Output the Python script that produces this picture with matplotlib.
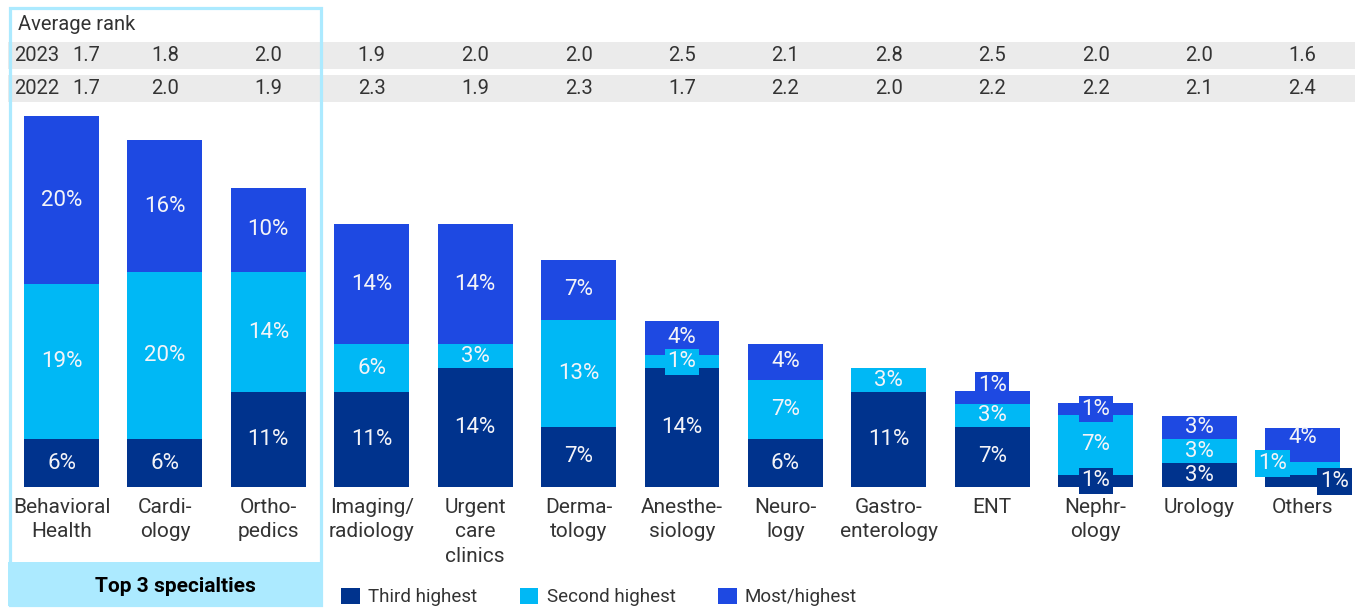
import matplotlib.pyplot as plt
from matplotlib.patches import Rectangle

plt.rcParams['font.family'] = ['Roboto', 'DejaVu Sans']

# ---- data ----
categories = ["Behavioral\nHealth", "Cardi-\nology", "Ortho-\npedics", "Imaging/\nradiology",
              "Urgent\ncare\nclinics", "Derma-\ntology", "Anesthe-\nsiology", "Neuro-\nlogy",
              "Gastro-\nenterology", "ENT", "Nephr-\nology", "Urology", "Others"]
third = [5.8, 5.8, 11.5, 11.5, 14.4, 7.3, 14.4, 5.8, 11.5, 7.3, 1.5, 2.9, 1.5]
second = [18.8, 20.3, 14.6, 5.8, 2.9, 13.0, 1.6, 7.2, 2.9, 2.8, 7.2, 2.9, 1.5]
most = [20.4, 16.0, 10.2, 14.6, 14.6, 7.3, 4.2, 4.4, 0.0, 1.5, 1.5, 2.8, 4.2]
third_lbl = [6, 6, 11, 11, 14, 7, 14, 6, 11, 7, 1, 3, 1]
second_lbl = [19, 20, 14, 6, 3, 13, 1, 7, 3, 3, 7, 3, 1]
most_lbl = [20, 16, 10, 14, 14, 7, 4, 4, None, 1, 1, 3, 4]
rank_2023 = ["1.7", "1.8", "2.0", "1.9", "2.0", "2.0", "2.5", "2.1", "2.8", "2.5", "2.0", "2.0", "1.6"]
rank_2022 = ["1.7", "2.0", "1.9", "2.3", "1.9", "2.3", "1.7", "2.2", "2.0", "2.2", "2.2", "2.1", "2.4"]
series_names = ["Third highest", "Second highest", "Most/highest"]

NAVY, CYAN, BLUE, PALE = "#00338D", "#00B8F5", "#1E49E2", "#ACEAFF"
TXT = "#333333"

W, H = 1355, 608
fig = plt.figure(figsize=(W / 100, H / 100), dpi=100)

# overlay axes in pixel coordinates for the frame / table bands
ov = fig.add_axes([0, 0, 1, 1])
ov.set_xlim(0, W)
ov.set_ylim(H, 0)
ov.axis('off')

ax = fig.add_axes([0, 0, 1, 1])
ax.patch.set_alpha(0)
ax.axis('off')
pxpct = 8.24  # pixels per percentage point
ax.set_xlim(-0.595, 12.508)
ax.set_ylim(-(H - 487) / pxpct, 487 / pxpct)

x = list(range(len(categories)))
bottom2 = [a for a in third]
bottom3 = [a + b for a, b in zip(third, second)]
b1 = ax.bar(x, third, width=0.725, color=NAVY, label=series_names[0], zorder=2)
b2 = ax.bar(x, second, width=0.725, bottom=bottom2, color=CYAN, label=series_names[1], zorder=2)
b3 = ax.bar(x, most, width=0.725, bottom=bottom3, color=BLUE, label=series_names[2], zorder=2)

# label offsets (dx in data units, dy in percentage points) for crowded segments
offsets = {("s", 12): (-0.29, 0.6), ("t", 12): (0.31, -0.1), ("m", 9): (0, 1.45), ("m", 12): (0, 0.85)}


def seg_label(xi, base, h, val, color, key):
    if val is None:
        return
    dx, dy = offsets.get((key, xi), (0, 0))
    bbox = None
    if h < 2.0:
        bbox = dict(boxstyle='square,pad=0.12', fc=color, ec='none')
    ax.text(xi + dx, base + h / 2 + dy, f"{val}%", ha='center', va='center',
            color='#F4F4F8', fontsize=16, zorder=4, bbox=bbox)


for i in x:
    seg_label(i, 0, third[i], third_lbl[i], NAVY, "t")
    seg_label(i, bottom2[i], second[i], second_lbl[i], CYAN, "s")
    seg_label(i, bottom3[i], most[i], most_lbl[i], BLUE, "m")

tr = ax.get_xaxis_transform()
for i, c in enumerate(categories):
    ax.text(i, 1 - 498 / H, c, transform=tr, ha='center', va='top', fontsize=15,
            color=TXT, linespacing=1.36)

# ---- average rank table ----
ov.add_patch(Rectangle((8, 42), W - 8, 27, color='#EBEBEB', lw=0, zorder=1))
ov.add_patch(Rectangle((8, 75), W - 8, 27, color='#EBEBEB', lw=0, zorder=1))
ov.text(18, 24, "Average rank", ha='left', va='center', fontsize=14.5, color=TXT)
ov.text(14, 55.5, "2023", ha='left', va='center', fontsize=14.5, color=TXT)
ov.text(14, 88.5, "2022", ha='left', va='center', fontsize=14.5, color=TXT)
for i in x:
    xi = 0.24 if i == 0 else i
    ax.text(xi, 1 - 55.5 / H, rank_2023[i], transform=tr, ha='center', va='center', fontsize=14.5, color=TXT)
    ax.text(xi, 1 - 88.5 / H, rank_2022[i], transform=tr, ha='center', va='center', fontsize=14.5, color=TXT)

# ---- top 3 frame ----
ov.add_patch(Rectangle((9.5, 7.5), 311, 597, fc='none', ec=PALE, lw=2.3, zorder=5))
ov.add_patch(Rectangle((8, 562), 314, 44, fc=PALE, ec='none', zorder=5))
ov.text(175, 586, "Top 3 specialties", ha='center', va='center', fontsize=15,
        fontweight='bold', color='black', zorder=6)

# ---- legend ----
fig.legend(handles=[b1, b2, b3], loc='center left', bbox_to_anchor=(341 / W, 1 - 597 / H),
           ncol=3, frameon=False, fontsize=13.5, handlelength=1.0, handleheight=1.0,
           handletextpad=0.45, columnspacing=2.25, borderpad=0, borderaxespad=0,
           labelcolor=TXT)

fig.savefig("out.png", dpi=100)
